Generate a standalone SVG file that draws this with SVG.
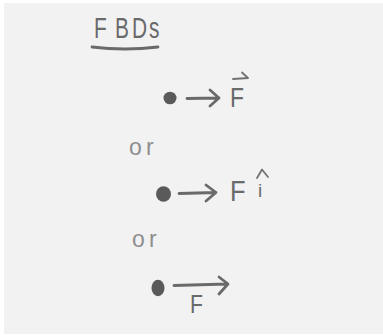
<svg xmlns="http://www.w3.org/2000/svg" width="383" height="335" viewBox="0 0 383 335">
<style>
.t{font-family:"Liberation Sans","DejaVu Sans",sans-serif;fill:#6a6a6a}
.o{font-family:"Liberation Sans","DejaVu Sans",sans-serif;fill:#8e8e8e}
.s{fill:none;stroke:#6a6a6a;stroke-width:2.8;stroke-linecap:round;stroke-linejoin:round}
.l{fill:none;stroke:#727272;stroke-width:1.8;stroke-linecap:round;stroke-linejoin:round}
.dot{fill:#5a5a5a}
</style>
<rect x="0" y="0" width="383" height="335" fill="#ffffff"/>
<rect x="4" y="3" width="379" height="331" fill="#f2f2f2"/>
<g id="title">
<text class="t" transform="translate(94,38) scale(0.72,1)" x="0 29.2 52.8 76.4" y="0" font-size="29">FBDs</text>
<path class="s" d="M92 47 Q125 51 158 47" stroke-width="3"/>
</g>
<g id="node1">
<ellipse class="dot" cx="170" cy="98" rx="6.5" ry="6.3"/>
<text class="t" transform="translate(230,107) scale(0.85,1)" x="0" y="0" font-size="27">F</text>
<path class="l" d="M233 79 L248 78 M242 72.5 L248 78"/>
</g>
<g id="or1"><text class="o" x="129 146" y="155" font-size="23">or</text></g>
<g id="node2">
<ellipse class="dot" cx="163.5" cy="194" rx="7.5" ry="7.8"/>
<text class="t" transform="translate(230,201) scale(0.85,1)" x="0" y="0" font-size="30">F</text>
<text class="t" x="258" y="197" font-size="19">i</text>
<path class="l" d="M257 178 L262 169.5 L268 177"/>
</g>
<g id="or2"><text class="o" x="132 149" y="247" font-size="23">or</text></g>
<g id="node3">
<ellipse class="dot" cx="158" cy="288" rx="6.5" ry="8.3"/>
<text class="t" transform="translate(190,313) scale(0.85,1)" x="0" y="0" font-size="25">F</text>
</g>
<g id="connectors">
<path class="s" d="M187 98.5 L219 98 M210 90 L219 98 L210 106"/>
<path class="s" d="M179 193.5 L216 192.5 M206 185 L216 192.5 L206 201"/>
<path class="s" d="M174 285.5 L227 284 M219 277 L228 284 L219 294"/>
</g>
</svg>
